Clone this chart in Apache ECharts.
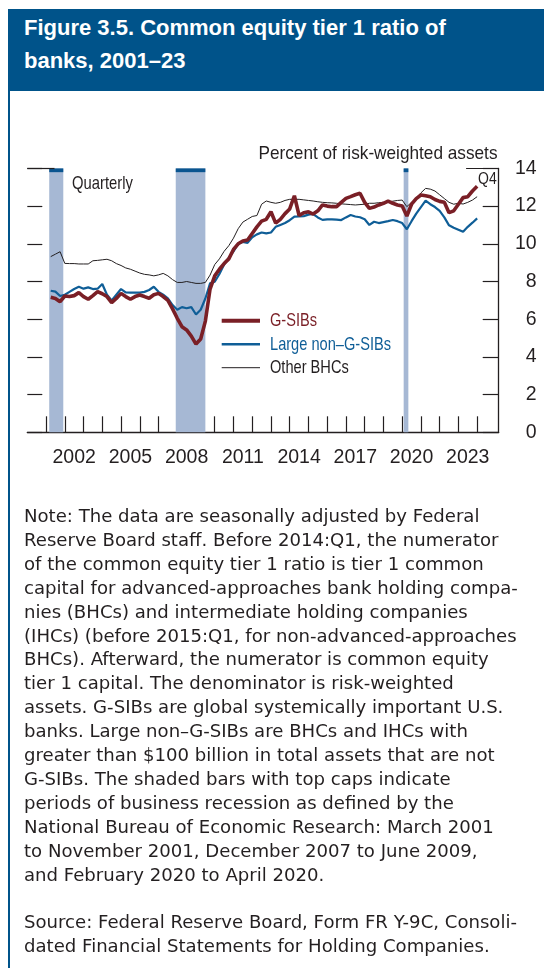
<!DOCTYPE html>
<html>
<head>
<meta charset="utf-8">
<script src="https://cdn.jsdelivr.net/npm/echarts@6/dist/echarts.min.js"></script>
<style>
  html, body { margin: 0; padding: 0; background: #fff; }
  body { width: 544px; height: 968px; position: relative; overflow: hidden; font-family: 'Liberation Sans', Arial, sans-serif; }
  #chart { position: absolute; left: 0; top: 0; width: 544px; height: 968px; }
  .head { position: absolute; left: 8px; top: 9px; width: 536px; height: 82px; background: #00538a; color: #fff;
          font-weight: bold; font-size: 22px; line-height: 33px; box-sizing: border-box; padding: 2px 0 0 16px; white-space: nowrap; }
  .rule { position: absolute; left: 8px; top: 91px; width: 2px; height: 877px; background: #00538a; }
  .note { position: absolute; left: 24px; top: 504px; font-family: 'DejaVu Sans', sans-serif; font-size: 18.1px; line-height: 23.9px; color: #231f20; white-space: nowrap; }
</style>
</head>
<body>
<div id="chart"></div>
<div class="head">Figure 3.5. Common equity tier 1 ratio of<br>banks, 2001–23</div>
<div class="rule"></div>
<div class="note">
Note: The data are seasonally adjusted by Federal<br>
Reserve Board staff. Before 2014:Q1, the numerator<br>
of the common equity tier 1 ratio is tier 1 common<br>
capital for advanced-approaches bank holding compa-<br>
nies (BHCs) and intermediate holding companies<br>
(IHCs) (before 2015:Q1, for non-advanced-approaches<br>
BHCs). Afterward, the numerator is common equity<br>
tier 1 capital. The denominator is risk-weighted<br>
assets. G-SIBs are global systemically important U.S.<br>
banks. Large non–G-SIBs are BHCs and IHCs with<br>
greater than $100 billion in total assets that are not<br>
G-SIBs. The shaded bars with top caps indicate<br>
periods of business recession as defined by the<br>
National Bureau of Economic Research: March 2001<br>
to November 2001, December 2007 to June 2009,<br>
and February 2020 to April 2020.<br>
<br>
Source: Federal Reserve Board, Form FR Y-9C, Consoli-<br>
dated Financial Statements for Holding Companies.
</div>
<script>
    // 季度数据, 2001:Q1 - 2023:Q4
    let startYear = 2001
    let gsibs = [
        7.16, 7.10, 6.93, 7.23,   7.20, 7.25, 7.41, 7.20,   7.06, 7.25, 7.46, 7.35,
        7.20, 6.88, 7.10, 7.37,   7.20, 7.06, 7.20, 7.28,   7.20, 7.11, 7.30, 7.37,
        7.20, 7.00, 6.55, 6.05,   5.60, 5.43, 5.10, 4.68,   4.95, 5.90, 7.60, 8.30,
        8.65, 8.95, 9.20, 9.70,   10.00, 10.15, 10.20, 10.55, 10.90, 11.20, 11.30, 11.70,
        11.10, 11.30, 11.60, 11.85, 12.55, 11.50, 11.65, 11.70, 11.58, 11.75, 12.06, 12.00,
        11.97, 11.97, 12.20, 12.41, 12.50, 12.60, 12.68, 12.20, 11.88, 11.95, 12.06, 12.15,
        12.27, 12.15, 12.06, 12.00, 11.47, 12.10, 12.40, 12.59, 12.55, 12.50, 12.35, 12.25,
        12.20, 11.65, 11.75, 12.10, 12.45, 12.50, 12.80, 13.05
    ]
    let largeNonGsibs = [
        7.51, 7.46, 7.23, 7.30,   7.45, 7.60, 7.72, 7.62,   7.69, 7.60, 7.62, 7.87,
        7.30, 7.00, 7.30, 7.60,   7.42, 7.41, 7.41, 7.41,   7.45, 7.55, 7.72, 7.45,
        7.30, 7.11, 6.75, 6.50,   6.64, 6.58, 6.64, 6.25,   6.50, 7.10, 7.90, 7.99,
        8.40, 8.90, 9.25, 9.60,   10.00, 10.10, 10.05, 10.35, 10.50, 10.60, 10.55, 10.60,
        10.90, 11.00, 11.10, 11.25, 11.44, 11.45, 11.47, 11.55, 11.58, 11.40, 11.27, 11.30,
        11.30, 11.28, 11.26, 11.40, 11.53, 11.45, 11.41, 11.30, 11.00, 11.17, 11.10, 11.15,
        11.20, 11.26, 11.20, 11.10, 10.77, 11.20, 11.60, 11.95, 12.29, 12.10, 11.95, 11.75,
        11.40, 10.98, 10.85, 10.75, 10.64, 10.90, 11.12, 11.35
    ]
    let otherBhcs = [
        9.32, 9.45, 9.58, 8.96,   8.95, 8.95, 8.93, 8.93,   8.93, 9.10, 9.12, 9.15,
        9.18, 9.10, 8.95, 8.85,   8.72, 8.65, 8.55, 8.45,   8.38, 8.35, 8.30, 8.35,
        8.43, 8.30, 8.10, 7.95,   7.95, 8.00, 7.95, 7.90,   7.90, 7.95, 8.34, 8.90,
        9.20, 9.60, 9.90, 10.30,  10.80, 11.15, 11.30, 11.45, 11.50, 12.10, 12.27, 12.20,
        12.15, 12.20, 12.30, 12.36, 12.36, 12.36, 12.33, 12.30, 12.27, 12.23, 12.20, 12.18,
        12.17, 12.15, 12.12, 12.10, 12.08, 12.06, 12.08, 12.10, 12.15, 12.15, 12.18, 12.20,
        12.23, 12.26, 12.30, 12.32, 11.97, 12.20, 12.41, 12.70, 12.94, 12.90, 12.80, 12.60,
        12.40, 12.20, 12.10, 12.15, 12.11, 12.20, 12.32, 12.50
    ]
    let seriesNames = ['G-SIBs', 'Large non–G-SIBs', 'Other BHCs']
    // 坐标轴刻度
    let yearTicks = [2001, 2002, 2003, 2004, 2005, 2006, 2007, 2008, 2009, 2010, 2011, 2012,
        2013, 2014, 2015, 2016, 2017, 2018, 2019, 2020, 2021, 2022, 2023, 2024]
    let yearLabels = [2002, 2005, 2008, 2011, 2014, 2017, 2020, 2023]
    // 衰退期 (NBER)
    let recessionStart = [2001.17, 2007.92, 2020.08]
    let recessionEnd = [2001.92, 2009.50, 2020.33]

    let FONT = '"Liberation Sans", Arial, sans-serif'
    let INK = '#231f20'
    let RED = '#7a1f26'
    let BLUE = '#0f5e97'
    let lineColors = [RED, BLUE, INK]
    let lineWidths = [3.6, 2.2, 1]

    // 季度 -> 坐标 (季度末)
    function toPoints (values) {
        return values.map(function (v, i) {
            return [startYear + (i + 1) / 4, v]
        })
    }

    // 图例 (手绘, 字体需要压窄)
    let legendScale = 0.79
    let legendGraphic = []
    seriesNames.forEach(function (name, k) {
        let cy = 320.7 + k * 23.5
        legendGraphic.push({
            type: 'line',
            shape: { x1: 221.7, y1: cy, x2: 260, y2: cy },
            style: { stroke: lineColors[k], lineWidth: lineWidths[k] + (k === 2 ? 0 : 0.4) }
        })
        legendGraphic.push({
            type: 'text', x: 270, y: cy + 0.5, scaleX: legendScale,
            style: { text: name, textAlign: 'left', textVerticalAlign: 'middle', font: '18.5px ' + FONT, fill: lineColors[k] }
        })
    })

    let myChart = echarts.init(document.getElementById('chart'))
    myChart.setOption({
        animation: false,
        grid: {
            left: 27.3, right: 45.3, top: 168.4, bottom: 535.7,
            outerBoundsMode: 'none'
        },
        xAxis: {
            type: 'value',
            min: 2000,
            max: 2025.15,
            axisLine: { lineStyle: { color: INK, width: 1.3 } },
            axisTick: { inside: true, length: 16, customValues: yearTicks, lineStyle: { color: INK, width: 1.2 } },
            axisLabel: {
                customValues: yearLabels.map(function (y) { return y + 0.5 }),
                formatter: function (v) { return String(Math.floor(v)) },
                margin: 15,
                fontSize: 19.5,
                fontFamily: FONT,
                color: INK
            },
            splitLine: { show: false }
        },
        yAxis: [
            {
                type: 'value',
                position: 'right',
                min: 0, max: 14, interval: 2,
                axisLine: { show: true, lineStyle: { color: INK, width: 1.3 } },
                axisTick: { show: true, inside: true, length: 16, lineStyle: { color: INK, width: 1.2 } },
                axisLabel: { margin: 38, align: 'right', fontSize: 19.5, fontFamily: FONT, color: INK, padding: [3, 0, 0, 0] },
                splitLine: { show: false }
            },
            {
                type: 'value',
                position: 'left',
                min: 0, max: 14, interval: 2,
                axisLine: { show: false },
                axisTick: { show: true, inside: true, length: 15, lineStyle: { color: INK, width: 1.2 } },
                axisLabel: { show: false },
                splitLine: { show: false }
            }
        ],
        graphic: [
            { type: 'text', x: 497.5, y: 153.5, scaleX: 0.93, style: { text: 'Percent of risk-weighted assets', textAlign: 'right', textVerticalAlign: 'middle', font: '18.5px ' + FONT, fill: INK } },
            { type: 'text', x: 72, y: 184, scaleX: 0.8, style: { text: 'Quarterly', textAlign: 'left', textVerticalAlign: 'middle', font: '18.5px ' + FONT, fill: INK } },
            { type: 'text', x: 496.7, y: 179.5, scaleX: 0.85, style: { text: 'Q4', textAlign: 'right', textVerticalAlign: 'middle', font: '16.5px ' + FONT, fill: INK } }
        ].concat(legendGraphic),
        series: [
            {
                name: 'recession',
                type: 'line',
                data: [],
                z: 1,
                markArea: {
                    silent: true,
                    itemStyle: { color: '#a6b8d4', opacity: 1 },
                    data: recessionStart.map(function (s, k) {
                        return [{ coord: [s, 0] }, { coord: [recessionEnd[k], 14] }]
                    })
                },
                markLine: {
                    silent: true,
                    symbol: 'none',
                    label: { show: false },
                    lineStyle: { color: INK, type: 'solid', width: 1.2 },
                    data: [
                        [{ coord: [2000, 14] }, { coord: [2001.45, 14] }],
                        [{ coord: [2023.41, 14] }, { coord: [2025.15, 14] }]
                    ]
                }
            },
            {
                name: 'cap',
                type: 'line',
                data: [],
                z: 1,
                markArea: {
                    silent: true,
                    itemStyle: { color: '#0a5590', opacity: 1 },
                    data: recessionStart.map(function (s, k) {
                        return [{ coord: [s, 13.8] }, { coord: [recessionEnd[k], 14] }]
                    })
                }
            },
            {
                name: seriesNames[2],
                type: 'line',
                data: toPoints(otherBhcs),
                symbol: 'none',
                z: 3,
                lineStyle: { color: lineColors[2], width: lineWidths[2] }
            },
            {
                name: seriesNames[1],
                type: 'line',
                data: toPoints(largeNonGsibs),
                symbol: 'none',
                z: 4,
                lineStyle: { color: lineColors[1], width: lineWidths[1] }
            },
            {
                name: seriesNames[0],
                type: 'line',
                data: toPoints(gsibs),
                symbol: 'none',
                z: 5,
                lineStyle: { color: lineColors[0], width: lineWidths[0] }
            }
        ]
    })
</script>
</body>
</html>
